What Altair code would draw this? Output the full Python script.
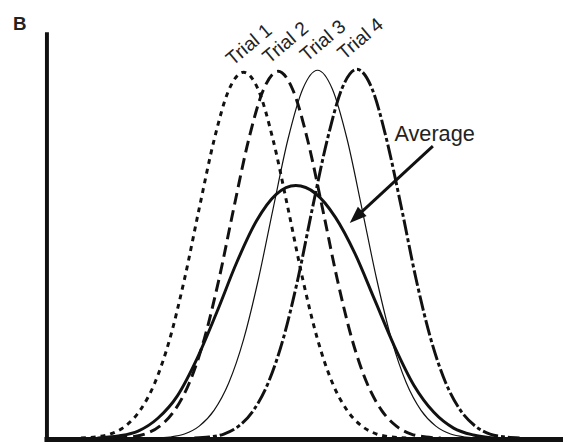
import altair as alt
import pandas as pd

# ---- data (x = horizontal position, h = height above baseline) ----
trial1_x = [82, 97, 112, 127, 142, 157, 172, 187, 202, 217, 232, 247, 262, 277, 292, 307, 322, 337, 352, 367, 382, 397, 412]
trial1_h = [1, 2, 5, 13, 29, 57, 101, 162, 234, 303, 354, 372, 354, 303, 234, 162, 101, 57, 29, 13, 5, 2, 1]

trial2_x = [117, 132, 147, 162, 177, 192, 207, 222, 237, 252, 267, 282, 297, 312, 327, 342, 357, 372, 387, 402, 417, 432, 447]
trial2_h = [1, 2, 5, 13, 29, 57, 101, 162, 234, 303, 354, 373, 354, 303, 234, 162, 101, 57, 29, 13, 5, 2, 1]

trial3_x = [157, 172, 187, 202, 217, 232, 247, 262, 277, 292, 307, 322, 337, 352, 367, 382, 397, 412, 427, 442, 457, 472, 487]
trial3_h = [1, 2, 5, 13, 29, 57, 101, 162, 234, 304, 355, 374, 355, 304, 234, 162, 101, 57, 29, 13, 5, 2, 1]

trial4_x = [197, 212, 227, 242, 257, 272, 287, 302, 317, 332, 347, 362, 377, 392, 407, 422, 437, 452, 467, 482, 497, 512, 527]
trial4_h = [1, 2, 5, 13, 29, 57, 101, 162, 235, 304, 356, 375, 356, 304, 235, 162, 101, 57, 29, 13, 5, 2, 1]

avg_x = [95, 100, 120, 140, 160, 180, 200, 220, 240, 260, 280, 300, 320, 340, 360, 380, 400, 420, 440, 460, 480, 500, 520]
avg_h = [0, 1, 3, 8, 21, 44, 82, 129, 179, 221, 248, 257, 249, 225, 188, 141, 94, 54, 27, 11, 4, 1, 0]

# trial labels (start of rotated text)
label_text = ["Trial 1", "Trial 2", "Trial 3", "Trial 4"]
label_x = [236, 273, 311, 349]
label_h = [378, 380, 382, 384]

# "Average" annotation and arrow
avg_label_x = [400]
avg_label_h = [302]
arrow_start = (439, 297)
arrow_end = (361, 225)
arrow_head_angle = [227]

FONT = "Liberation Sans"
INK = "#111111"

x_enc = alt.X("x:Q", scale=alt.Scale(domain=[47, 571], nice=False, zero=False),
              axis=alt.Axis(title=None, labels=False, ticks=False, grid=False,
                            domainWidth=5, domainColor=INK, domainCap="square"))
y_enc = alt.Y("h:Q", scale=alt.Scale(domain=[0, 411], nice=False, zero=False),
              axis=alt.Axis(title=None, labels=False, ticks=False, grid=False,
                            domainWidth=4, domainColor=INK, domainCap="square"))


def curve(xs, hs, dash, width):
    df = pd.DataFrame({"x": xs, "h": hs, "o": list(range(len(xs)))})
    kw = dict(color=INK, strokeWidth=width, interpolate="monotone", strokeCap="butt", clip=False)
    if dash:
        kw["strokeDash"] = dash
    return alt.Chart(df).mark_line(**kw).encode(x=x_enc, y=y_enc, order="o:Q")


layers = [
    curve(trial1_x, trial1_h, [5, 5], 3),
    curve(trial2_x, trial2_h, [12, 6], 3),
    curve(trial3_x, trial3_h, None, 1.2),
    curve(trial4_x, trial4_h, [16, 3, 4, 3], 3),
    curve(avg_x, avg_h, None, 3),
]

labels_df = pd.DataFrame({"x": label_x, "h": label_h, "t": label_text})
labels = alt.Chart(labels_df).mark_text(
    font=FONT, fontSize=19.5, angle=320, align="left", baseline="alphabetic", color="#222222"
).encode(x=x_enc, y=y_enc, text="t:N")

avg_df = pd.DataFrame({"x": avg_label_x, "h": avg_label_h, "t": ["Average"]})
avg_label = alt.Chart(avg_df).mark_text(
    font=FONT, fontSize=22, align="left", baseline="alphabetic", color="#222222"
).encode(x=x_enc, y=y_enc, text="t:N")

arrow_df = pd.DataFrame({"x": [arrow_start[0]], "h": [arrow_start[1]],
                         "x2": [arrow_end[0]], "h2": [arrow_end[1]]})
arrow_line = alt.Chart(arrow_df).mark_rule(color=INK, strokeWidth=3).encode(
    x=x_enc, y=y_enc, x2="x2:Q", y2="h2:Q")

head_df = pd.DataFrame({"x": [arrow_end[0]], "h": [arrow_end[1]], "a": arrow_head_angle})
arrow_head = alt.Chart(head_df).mark_point(
    shape="M0,-1L0.75,1L-0.75,1Z", filled=True, size=300, color=INK, opacity=1, strokeWidth=0
).encode(x=x_enc, y=y_enc, angle=alt.Angle("a:Q", scale=None))

panel_label = alt.Chart(pd.DataFrame({"t": ["B"]})).mark_text(
    font=FONT, fontSize=19, fontWeight="bold", align="left", baseline="alphabetic", color="#222222"
).encode(x=alt.value(-34), y=alt.value(-4), text="t:N")

chart = alt.layer(*layers, labels, avg_label, arrow_line, arrow_head, panel_label).properties(
    width=524, height=411, autosize="none",
    padding={"left": 39, "top": 23, "right": 0, "bottom": 4},
    background="white",
).configure_view(strokeWidth=0)

chart.save("out.html", embed_options={"renderer": "svg", "actions": False})
